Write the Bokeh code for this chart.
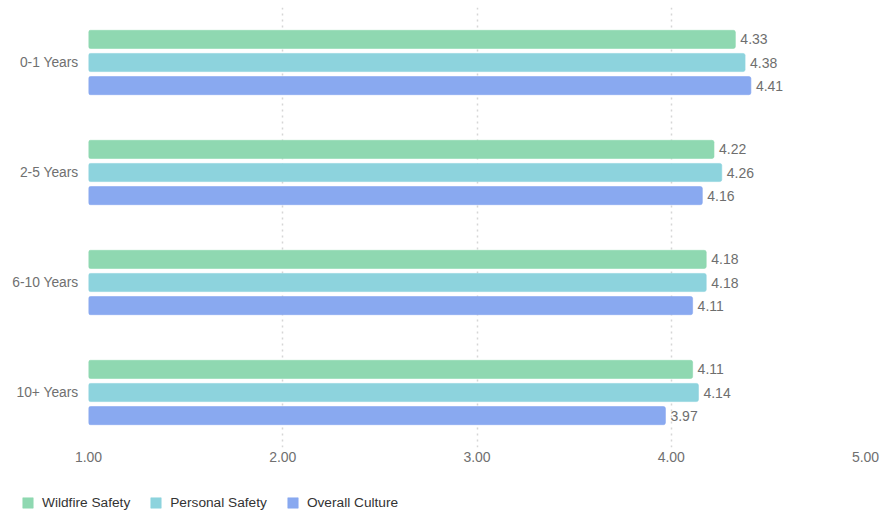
from bokeh.plotting import figure
from bokeh.layouts import column
from bokeh.models import (ColumnDataSource, FactorRange, Range1d, FixedTicker,
                          NumeralTickFormatter, Legend, LegendItem)
from bokeh.transform import dodge
from bokeh.core.properties import value
from bokeh.embed import file_html
from bokeh.resources import INLINE

categories = ["0-1 Years", "2-5 Years", "6-10 Years", "10+ Years"]
series_names = ["Wildfire Safety", "Personal Safety", "Overall Culture"]
wildfire = [4.33, 4.22, 4.18, 4.11]
personal = [4.38, 4.26, 4.18, 4.14]
overall = [4.41, 4.16, 4.11, 3.97]
x_ticks = [1, 2, 3, 4, 5]

colors = ["#8fd8b1", "#8dd3dd", "#89a9f0"]
offsets = [0.21, 0.0, -0.21]
series_vals = [wildfire, personal, overall]

FONT = "Liberation Sans"

p = figure(width=890, height=477, output_backend="svg", toolbar_location=None,
           y_range=FactorRange(factors=list(reversed(categories)), range_padding=0),
           x_range=Range1d(1, 5),
           min_border_left=88, min_border_right=25, min_border_top=7, min_border_bottom=30)
p.outline_line_color = None
p.background_fill_color = "white"
p.border_fill_color = "white"
p.frame_align = False

# separate strip below the chart that only holds the legend
leg_fig = figure(width=890, height=33, output_backend="svg", toolbar_location=None,
                 x_range=Range1d(10, 11), y_range=Range1d(10, 11),
                 x_axis_location=None, y_axis_location=None,
                 min_border_left=0, min_border_right=0, min_border_top=0, min_border_bottom=0)
leg_fig.outline_line_color = None
leg_fig.grid.visible = False
leg_fig.background_fill_color = "white"
leg_fig.border_fill_color = "white"
leg_fig.frame_align = False

legend_items = []
for name, vals, col, off in zip(series_names, series_vals, colors, offsets):
    src = ColumnDataSource(dict(cat=categories, val=vals,
                                lab=[f"{v:.2f}" for v in vals]))
    p.hbar(y=dodge("cat", off, range=p.y_range), left=1, right="val",
           height=0.165, source=src, fill_color=col, line_color=col,
           line_alpha=0.6, border_radius=2)
    p.text(x="val", y=dodge("cat", off, range=p.y_range), text="lab", source=src,
           x_offset=5, text_baseline="middle", text_align="left",
           text_font=value(FONT), text_font_size="14px", text_color="#6e6e6e")
    # legend proxy (outside the strip's visible range)
    lr = leg_fig.quad(left=[0], right=[1], bottom=[0], top=[1], fill_color=col,
                      line_color=col, line_alpha=0.6, border_radius=2)
    legend_items.append(LegendItem(label=name, renderers=[lr]))

p.xaxis.ticker = FixedTicker(ticks=x_ticks)
p.xaxis.formatter = NumeralTickFormatter(format="0.00")
for ax in (p.xaxis[0], p.yaxis[0]):
    ax.axis_line_color = None
    ax.major_tick_line_color = None
    ax.minor_tick_line_color = None
    ax.major_tick_out = 0
    ax.major_tick_in = 0
    ax.minor_tick_out = 0
    ax.major_label_text_font = FONT
    ax.major_label_text_color = "#707070"
p.xaxis.major_label_text_font_size = "14px"
p.yaxis.major_label_text_font_size = "13.8px"
p.xaxis.major_label_standoff = 4
p.yaxis.major_label_standoff = 10

p.ygrid.grid_line_color = None
p.xgrid.ticker = FixedTicker(ticks=x_ticks)
p.xgrid.grid_line_color = "#d6d6d6"
p.xgrid.grid_line_dash = "2 4"
p.xgrid.grid_line_width = 1.5

legend = Legend(items=legend_items, orientation="horizontal", location=(21, 0),
                glyph_width=13, glyph_height=13, label_standoff=8, spacing=19,
                padding=0, margin=0, border_line_color=None,
                background_fill_alpha=0,
                label_text_font=FONT, label_text_font_size="13.7px",
                label_text_color="#333333", label_height=13)
leg_fig.add_layout(legend, "center")

layout = column(p, leg_fig, spacing=0)
open("out.html", "w").write(file_html(layout, INLINE))
